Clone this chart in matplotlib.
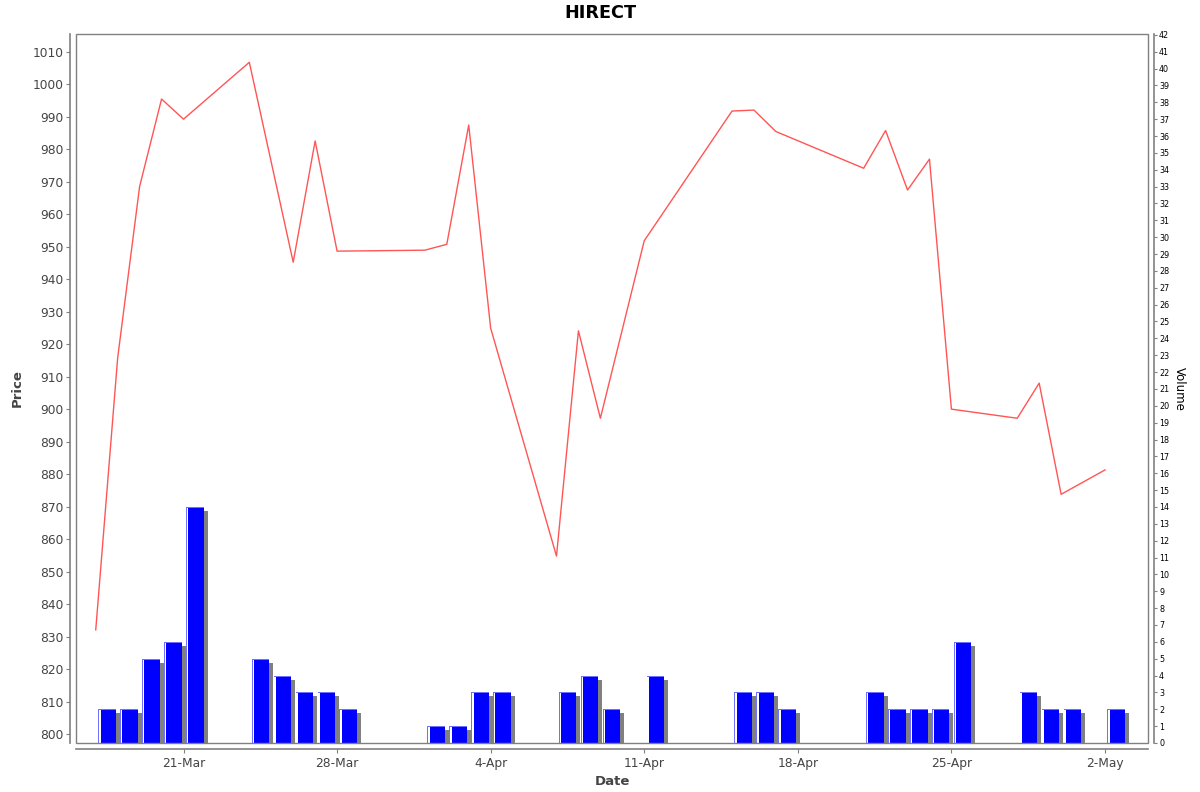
import numpy as np
import pandas as pd
import matplotlib
matplotlib.use("Agg")
import matplotlib.pyplot as plt
import matplotlib.dates as mdates
from matplotlib.patches import Rectangle

# price series (close)
price_dates = ["03-17", "03-18", "03-19", "03-20", "03-21", "03-24", "03-26", "03-27",
               "03-28", "04-01", "04-02", "04-03", "04-04", "04-07", "04-08", "04-09",
               "04-11", "04-15", "04-16", "04-17", "04-21", "04-22", "04-23", "04-24",
               "04-25", "04-28", "04-29", "04-30", "05-02"]
prices = [832.1, 915.8, 968.5, 995.4, 989.2, 1006.7, 945.2, 982.5,
          948.6, 948.9, 950.7, 987.4, 924.9, 854.8, 924.1, 897.2,
          951.8, 991.7, 992.0, 985.4, 974.1, 985.7, 967.4, 976.9,
          900.0, 897.2, 908.0, 873.8, 881.3]

# volume series
vol_dates = ["03-17", "03-18", "03-19", "03-20", "03-21", "03-24", "03-25", "03-26",
             "03-27", "03-28", "04-01", "04-02", "04-03", "04-04", "04-07", "04-08",
             "04-09", "04-11", "04-15", "04-16", "04-17", "04-21", "04-22", "04-23",
             "04-24", "04-25", "04-28", "04-29", "04-30", "05-02"]
volumes = [2, 2, 5, 6, 14, 5, 4, 3,
           3, 2, 1, 1, 3, 3, 3, 4,
           2, 4, 3, 3, 2, 3, 2, 2,
           2, 6, 3, 2, 2, 2]

tick_dates = ["03-21", "03-28", "04-04", "04-11", "04-18", "04-25", "05-02"]
tick_labels = ["21-Mar", "28-Mar", "4-Apr", "11-Apr", "18-Apr", "25-Apr", "2-May"]

def to_num(ds):
    return mdates.date2num(pd.to_datetime(["2022-" + d for d in ds]))

px = to_num(price_dates)
vx = to_num(vol_dates)
tx = to_num(tick_dates)

fig = plt.figure(figsize=(12, 7.92), dpi=100)
ax = fig.add_axes([76 / 1200, 1 - 743 / 792, (1148 - 76) / 1200, (743 - 34) / 792])
ax2 = ax.twinx()
ax.set_zorder(ax2.get_zorder() + 1)
ax.patch.set_visible(False)

# x geometry in days (approx 21.94 px per day)
pxd = 1 / 21.94
xmin = to_num(["03-21"])[0] - 107.5 * pxd
xmax = to_num(["05-02"])[0] + 43 * pxd
vpx = 42 / 709.0  # volume units per pixel

off = 2.4 * pxd
w = 17.6 * pxd
for x, v in zip(vx, volumes):
    # shadow
    ax2.add_patch(Rectangle((x + off + 4 * pxd, 0), w, v - 4 * vpx,
                            facecolor="#808080", edgecolor="none", zorder=1))
    # light outer bar
    ax2.add_patch(Rectangle((x + off, 0), w, v,
                            facecolor="#7070ff", edgecolor="none", zorder=2))
    ax2.add_patch(Rectangle((x + off + 0.8 * pxd, 0), 1.6 * pxd, v - 1 * vpx,
                            facecolor="white", edgecolor="none", zorder=3))
    ax2.add_patch(Rectangle((x + off + 2.4 * pxd, 0), w - 2.4 * pxd, v - 1 * vpx,
                            facecolor="#0000ff", edgecolor="none", zorder=3))

ax.plot(px, prices, color="#ff5555", lw=1.0)

ax.set_xlim(xmin, xmax)
ax.set_ylim(797.3, 1015.4)
ax2.set_ylim(0, 42.05)

ax.set_xticks(tx)
ax.set_xticklabels(tick_labels)
ax.set_yticks(np.arange(800, 1011, 10))
ax2.set_yticks(np.arange(0, 43, 1))

grey = "#444444"
ax.tick_params(axis="x", labelsize=8.8, colors="#808080", labelcolor=grey, length=3, pad=3)
ax.tick_params(axis="y", labelsize=8.8, colors="#808080", labelcolor=grey, length=3, pad=2)
ax2.tick_params(axis="y", labelsize=5.8, colors="#808080", labelcolor="black", length=2, pad=2)

for a in (ax, ax2):
    for s in a.spines.values():
        s.set_visible(False)
ax.spines["left"].set_visible(True)
ax.spines["bottom"].set_visible(True)
ax2.spines["right"].set_visible(True)
for s in (ax.spines["left"], ax.spines["bottom"], ax2.spines["right"]):
    s.set_position(("outward", 4))
    s.set_color("#808080")
    s.set_linewidth(1.2)

ax.add_patch(Rectangle((0, 0), 1, 1, transform=ax.transAxes, fill=False,
                       edgecolor="#808080", lw=1.0, clip_on=False, zorder=5))

ax.set_xlabel("Date", fontsize=9.5, fontweight="bold", color=grey, labelpad=4)
ax.set_ylabel("Price", fontsize=9.5, fontweight="bold", color=grey, labelpad=6)
ax2.set_ylabel("Volume", fontsize=8.5, color="black", rotation=270, labelpad=12)

fig.text(0.5, 1 - 13 / 792, "HIRECT", ha="center", va="center",
         fontsize=12.7, fontweight="bold", color="black")

fig.savefig("out.png", dpi=100, facecolor="white")
